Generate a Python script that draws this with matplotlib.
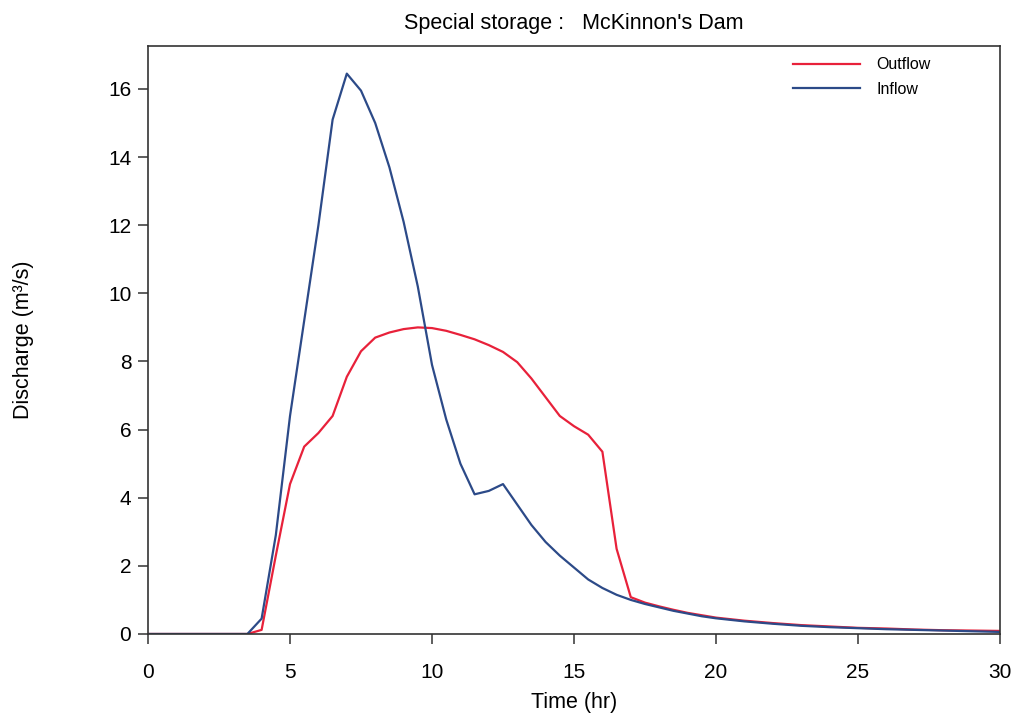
import matplotlib.pyplot as plt

plt.rcParams['font.family'] = ['Liberation Sans', 'DejaVu Sans']

# hydrograph sampled every half hour, 0 to 30 hr
time_hr = [i * 0.5 for i in range(0, 41)] + list(range(21, 31))

inflow = [
    0, 0, 0, 0, 0, 0, 0, 0,            # 0 - 3.5
    0.45, 2.9, 6.4, 9.2, 12.0, 15.1,   # 4 - 6.5
    16.45, 15.95, 15.0, 13.7, 12.1, 10.2,  # 7 - 9.5
    7.9, 6.3, 5.0, 4.1, 4.2, 4.4,      # 10 - 12.5
    3.8, 3.2, 2.7, 2.3, 1.95, 1.6,     # 13 - 15.5
    1.35, 1.15, 1.0, 0.88, 0.78, 0.68, # 16 - 18.5
    0.6, 0.52, 0.46,                   # 19 - 20
    0.37, 0.3, 0.24, 0.2, 0.17, 0.14, 0.12, 0.1, 0.08, 0.06,
]

outflow = [
    0, 0, 0, 0, 0, 0, 0, 0,
    0.12, 2.3, 4.4, 5.5, 5.9, 6.4,
    7.55, 8.3, 8.7, 8.85, 8.95, 9.0,
    8.98, 8.9, 8.78, 8.65, 8.48, 8.28,
    7.98, 7.5, 6.95, 6.4, 6.1, 5.85,
    5.35, 2.5, 1.08, 0.92, 0.81, 0.71,
    0.62, 0.55, 0.48,
    0.39, 0.32, 0.26, 0.22, 0.18, 0.16, 0.13, 0.11, 0.1, 0.09,
]

fig = plt.figure(figsize=(10.18, 7.17), dpi=100)
ax = fig.add_axes([0.1454, 0.1158, 0.8369, 0.82])

ax.plot(time_hr, outflow, color='#e8213a', lw=1.6, label='Outflow')
ax.plot(time_hr, inflow, color='#2c4a88', lw=1.6, label='Inflow')

ax.set_xlim(0, 30)
ax.set_ylim(0, 17.26)
ax.set_xticks(range(0, 31, 5))
ax.set_yticks(range(0, 17, 2))
ax.tick_params(direction='out', length=7, width=1.1, labelsize=15, color='#333333')
ax.tick_params(axis='x', pad=14)
ax.tick_params(axis='y', pad=5)
for s in ax.spines.values():
    s.set_color('#333333')
    s.set_linewidth(1.2)

ax.set_xlabel('Time (hr)', fontsize=15.5)
ax.xaxis.set_label_coords(0.5, -0.099)
ax.set_ylabel('Discharge (m³/s)', fontsize=15.5)
ax.yaxis.set_label_coords(-0.134, 0.5)
ax.set_title("Special storage :   McKinnon's Dam", fontsize=15.5, pad=12)

ax.legend(loc='upper left', bbox_to_anchor=(0.757, 0.981), frameon=False,
          borderaxespad=0, borderpad=0, fontsize=11.5, handlelength=4.2,
          handletextpad=1.0, labelspacing=0.6)

fig.savefig('out.png', dpi=100)
